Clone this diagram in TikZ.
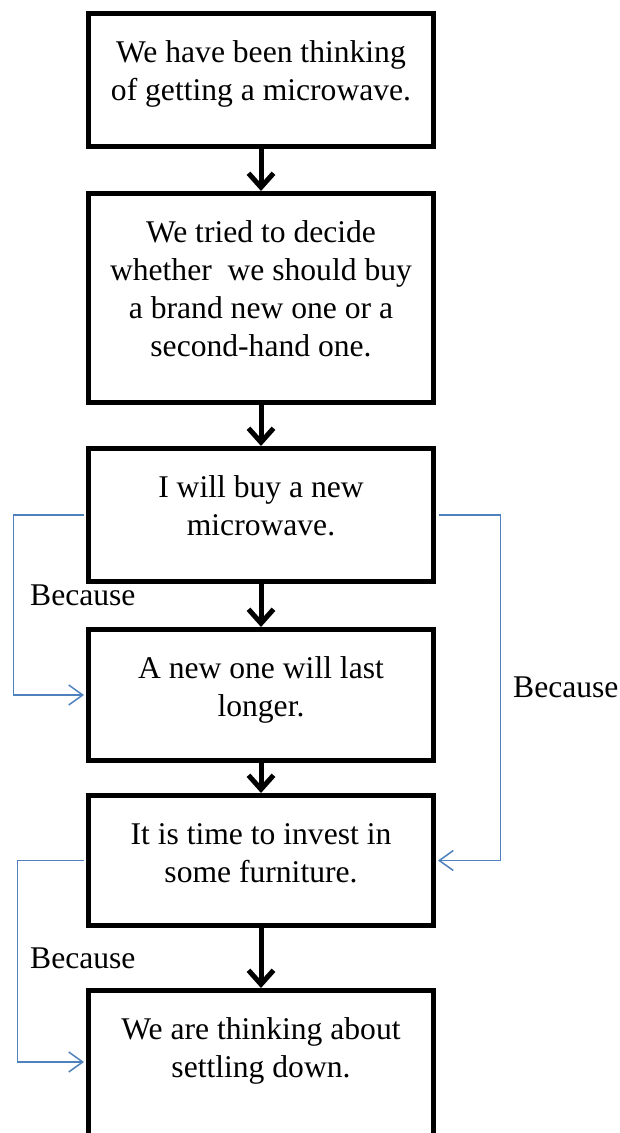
\documentclass[tikz,border=0pt]{standalone}
\usepackage{fontspec}
\setmainfont{Liberation Serif}
\usetikzlibrary{arrows.meta}
\definecolor{linkblue}{HTML}{4F81BD}

% text block of a box: top-aligned, centred lines
\newcommand{\flowtext}[2]{\parbox[c][#1pt][t]{345pt}{\centering\rule{0pt}{48.5pt}#2}}

\tikzset{
  flowbox/.style={draw, line width=5pt, inner sep=0pt, fill=white},
  flowarrow/.style={line width=5pt, -{Straight Barb[length=14pt,width=25pt]}},
  because/.style={draw=linkblue, line width=1.5pt,
    -{Straight Barb[length=14pt,width=20pt]}, shorten >=2pt, shorten <=2.5pt},
  note/.style={inner sep=0pt, anchor=west}
}

\begin{document}
\begin{tikzpicture}[x=1pt, y=-1pt, font=\fontsize{31.6}{38}\selectfont]
\useasboundingbox (0,0) rectangle (620,1133);

% the chain of statements
\node[flowbox] (b1) at (261,80)     {\flowtext{133}{We have been thinking\\of getting a microwave.}};
\node[flowbox] (b2) at (261,298)    {\flowtext{209}{We tried to decide\\whether\ \ we should buy\\a brand new one or a\\second-hand one.}};
\node[flowbox] (b3) at (261,515)    {\flowtext{133}{I will buy a new\\microwave.}};
\node[flowbox] (b4) at (261,695)    {\flowtext{131}{A new one will last\\longer.}};
\node[flowbox] (b5) at (261,860.5)  {\flowtext{130}{It is time to invest in\\some furniture.}};
% the last box runs on past the lower edge of the page
\node[flowbox] (b6) at (261,1065.5) {\flowtext{150}{We are thinking about\\settling down.}};

% main flow
\draw[flowarrow] (b1.south) -- (b2.north);
\draw[flowarrow] (b2.south) -- (b3.north);
\draw[flowarrow] (b3.south) -- (b4.north);
\draw[flowarrow] (b4.south) -- (b5.north);
\draw[flowarrow] (b5.south) -- (b6.north);

% reasons
\draw[because] (b3.west) -- ++(-72.5,0) |- (b4.west);
\draw[because] (b3.east) -- ++(64.5,0)  |- (b5.east);
\draw[because] (b5.west) -- ++(-68.5,0) |- ([yshift=3.5pt]b6.west);

\node[note] (r1) at (30,595)  {Because};
\node[note] (r2) at (513,687) {Because};
\node[note] (r3) at (30,958)  {Because};
\end{tikzpicture}
\end{document}
